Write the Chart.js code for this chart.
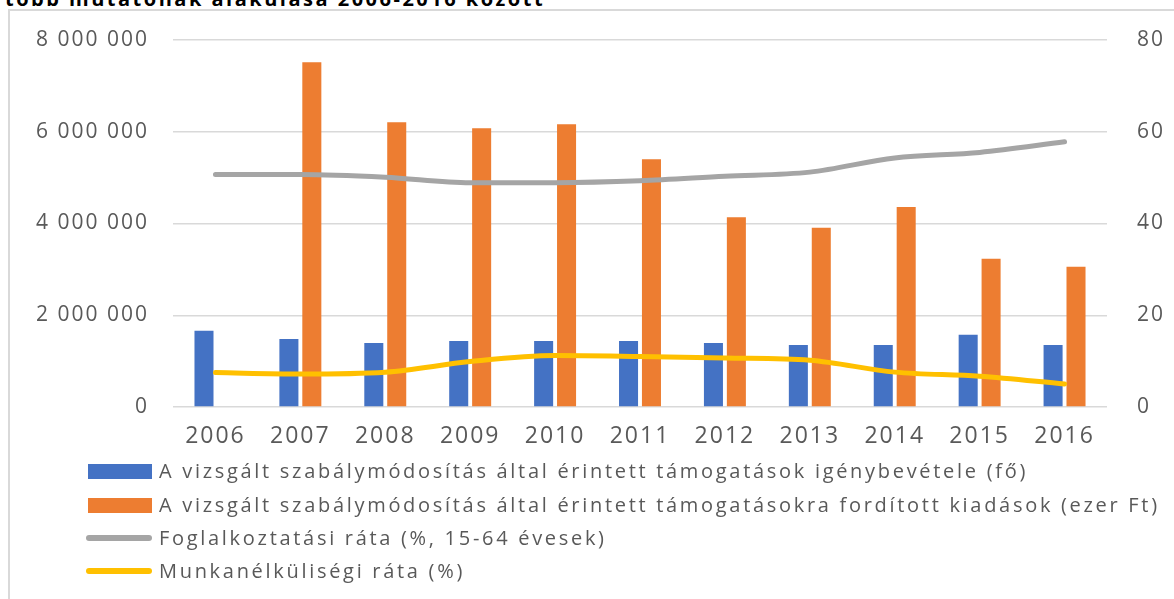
<!DOCTYPE html>
<html>
<head>
<meta charset="utf-8">
<script src="https://cdn.jsdelivr.net/npm/chart.js@4"></script>
<style>
  html, body { margin: 0; padding: 0; background: #fff; width: 1174px; height: 599px; overflow: hidden; }
  #wrap { position: relative; width: 1174px; height: 599px; }
  #title { position: absolute; left: 5px; top: -11px; font: bold 20px "Open Sans", sans-serif; line-height: 20px; letter-spacing: 2.5px; color: #000; white-space: nowrap; }
  #frame { position: absolute; left: 8px; top: 9px; width: 1180px; height: 600px; border-left: 2px solid #d9d9d9; border-top: 2px solid #d9d9d9; }
  canvas { position: absolute; left: 0; top: 0; }
  #legend { position: absolute; left: 0; top: 0; }
  .item { position: absolute; left: 86px; height: 30px; white-space: nowrap; }
  .sw { position: absolute; }
  .lab { position: absolute; left: 73px; top: 0; font: 20px "Open Sans", sans-serif; color: #595959; letter-spacing: 2.7px; line-height: 30px; }
</style>
</head>
<body>
<div id="wrap">
  <div id="title">több mutatónak alakulása 2006-2016 között</div>
  <div id="frame"></div>
  <canvas id="c" width="1174" height="599"></canvas>
  <div id="legend"></div>
</div>
<script>
const years = ['2006','2007','2008','2009','2010','2011','2012','2013','2014','2015','2016'];
const benefitUsers = [1663000, 1482000, 1395000, 1439000, 1439000, 1439000, 1395000, 1352000, 1352000, 1577000, 1352000];
const expenditures = [null, 7514000, 6206000, 6075000, 6162000, 5399000, 4135000, 3909000, 4360000, 3233000, 3058000];
const employmentRate = [50.7, 50.7, 50.1, 48.9, 48.9, 49.3, 50.3, 51.2, 54.3, 55.5, 57.8];
const unemploymentRate = [7.5, 7.2, 7.6, 9.9, 11.2, 11.0, 10.7, 10.2, 7.6, 6.7, 5.0];

const seriesLabels = [
  'A vizsgált szabálymódosítás által érintett támogatások igénybevétele (fő)',
  'A vizsgált szabálymódosítás által érintett támogatásokra fordított kiadások (ezer Ft)',
  'Foglalkoztatási ráta (%, 15-64 évesek)',
  'Munkanélküliségi ráta (%)'
];
const leftTicks = [0, 2000000, 4000000, 6000000, 8000000];
const rightTicks = [0, 20, 40, 60, 80];

const COLORS = ['#4472C4', '#ED7D31', '#A5A5A5', '#FFC000'];

function fmtSpace(v) {
  return String(v).replace(/\B(?=(\d{3})+(?!\d))/g, ' ');
}

const spacingPlugin = {
  id: 'spacing',
  beforeDraw(chart) { chart.ctx.letterSpacing = '2px'; },
  afterDraw(chart) { chart.ctx.letterSpacing = '0px'; }
};

const chart = new Chart(document.getElementById('c'), {
  type: 'bar',
  data: {
    labels: years,
    datasets: [
      { type: 'line', label: seriesLabels[2], data: employmentRate, yAxisID: 'yR', borderColor: COLORS[2], backgroundColor: COLORS[2], borderWidth: 5, pointRadius: 0, cubicInterpolationMode: 'monotone', borderCapStyle: 'round', borderJoinStyle: 'round', order: 0 },
      { type: 'line', label: seriesLabels[3], data: unemploymentRate, yAxisID: 'yR', borderColor: COLORS[3], backgroundColor: COLORS[3], borderWidth: 5, pointRadius: 0, cubicInterpolationMode: 'monotone', borderCapStyle: 'round', borderJoinStyle: 'round', order: 0 },
      { label: seriesLabels[0], data: benefitUsers, yAxisID: 'yL', backgroundColor: COLORS[0], categoryPercentage: 0.54, barPercentage: 0.83, order: 1 },
      { label: seriesLabels[1], data: expenditures, yAxisID: 'yL', backgroundColor: COLORS[1], categoryPercentage: 0.54, barPercentage: 0.83, order: 1 }
    ]
  },
  options: {
    responsive: false,
    animation: false,
    devicePixelRatio: 1,
    layout: { padding: { top: 40, left: 0, right: 0, bottom: 0 } },
    plugins: { legend: { display: false }, tooltip: { enabled: false }, title: { display: false } },
    scales: {
      x: {
        grid: { display: false, drawTicks: false },
        border: { display: false },
        ticks: { color: '#595959', font: { family: 'Open Sans', size: 23 }, padding: 16, maxRotation: 0 },
        afterFit(s) { s.height = 192; }
      },
      yL: {
        position: 'left',
        min: 0, max: 8000000,
        afterBuildTicks(s) { s.ticks = leftTicks.map(v => ({ value: v })); },
        grid: { color: '#d9d9d9', lineWidth: 1.5, drawTicks: false },
        border: { display: false },
        ticks: { color: '#595959', font: { family: 'Open Sans', size: 21 }, padding: 24, callback: v => fmtSpace(v) },
        afterFit(s) { s.width = 173; }
      },
      yR: {
        position: 'right',
        min: 0, max: 80,
        afterBuildTicks(s) { s.ticks = rightTicks.map(v => ({ value: v })); },
        grid: { display: true, drawOnChartArea: false, drawTicks: true, tickLength: 27, tickColor: 'rgba(0,0,0,0)' },
        border: { display: false },
        ticks: { color: '#595959', font: { family: 'Open Sans', size: 21 }, padding: 3 },
        afterFit(s) { s.width = 67; }
      }
    }
  },
  plugins: [spacingPlugin]
});

// HTML legend built from the chart's datasets
const legend = document.getElementById('legend');
const rowCenters = [471, 505, 538, 571];
const legendOrder = [2, 3, 0, 1];
legendOrder.forEach((dsIdx, i) => {
  const ds = chart.data.datasets[dsIdx];
  const item = document.createElement('div');
  item.className = 'item';
  item.style.top = (rowCenters[i] - 15) + 'px';
  const sw = document.createElement('div');
  sw.className = 'sw';
  if (ds.type === 'line') {
    sw.style.cssText = 'left:0;top:12px;width:66px;height:6px;border-radius:3px;background:' + ds.borderColor;
  } else {
    sw.style.cssText = 'left:2px;top:8px;width:64px;height:15px;background:' + ds.backgroundColor;
  }
  const lab = document.createElement('div');
  lab.className = 'lab';
  lab.textContent = ds.label;
  item.appendChild(sw);
  item.appendChild(lab);
  legend.appendChild(item);
});
</script>
</body>
</html>
